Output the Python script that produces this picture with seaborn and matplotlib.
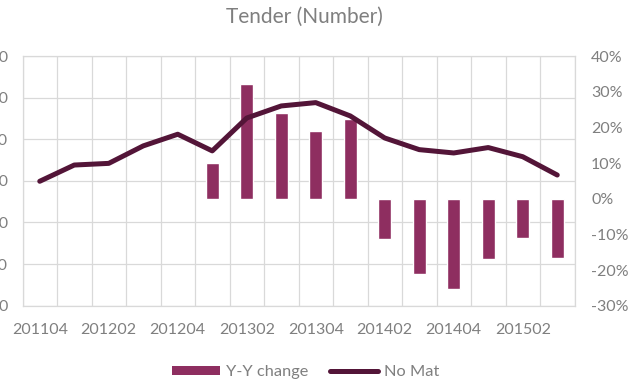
import numpy as np
import pandas as pd
import matplotlib
matplotlib.use("Agg")
import matplotlib.pyplot as plt
from matplotlib.patches import Patch
from matplotlib.lines import Line2D
from matplotlib.ticker import PercentFormatter, NullFormatter
import seaborn as sns

# Quarterly periods (YYYYQQ)
periods = ["201104", "201201", "201202", "201203", "201204", "201301", "201302", "201303",
           "201304", "201401", "201402", "201403", "201404", "201501", "201502", "201503"]
# Number of tenders (moving total)
no_mat = [299, 338, 342, 384, 412, 372, 451, 480, 488, 456, 403, 375, 367, 380, 358, 314]
# Year-on-year change (fraction)
yy_change = [np.nan, np.nan, np.nan, np.nan, np.nan, 0.100, 0.321, 0.240, 0.190, 0.224,
             -0.112, -0.210, -0.252, -0.168, -0.110, -0.166]
left_ticks = [0, 100, 200, 300, 400, 500, 600]
right_ticks = [-0.3, -0.2, -0.1, 0.0, 0.1, 0.2, 0.3, 0.4]
x_labels = ["201104", "201202", "201204", "201302", "201304", "201402", "201404", "201502"]

df = pd.DataFrame({"period": periods, "no_mat": no_mat, "yy": yy_change})

sns.set_theme(style="white")
plt.rcParams["font.family"] = ["Lato", "DejaVu Sans"]
plt.rcParams["axes.unicode_minus"] = False

BAR = "#8E2E60"
LINE = "#531538"
GRID = "#D9D9D9"
TXT = "#7F7F7F"
FS = 11.5

fig = plt.figure(figsize=(6.41, 3.82), dpi=100)
fig.patch.set_facecolor("white")
ax_grid = fig.add_axes([22.5 / 641, 76.3 / 382, 552 / 641, 249.7 / 382])
ax_bar = ax_grid.twinx()
ax_line = ax_grid.twinx()
ax_grid.set_zorder(0)
ax_bar.set_zorder(1)
ax_line.set_zorder(2)
for a in (ax_bar, ax_line):
    a.patch.set_visible(False)

# Bars: year-on-year change on the right-hand scale
sns.barplot(data=df.dropna(subset=["yy"]), x="period", y="yy", order=periods,
            color=BAR, saturation=1, width=0.39, ax=ax_bar, errorbar=None)

# Line: number of tenders on the left-hand scale
sns.lineplot(data=df, x="period", y="no_mat", sort=False, color=LINE, linewidth=3.6,
             ax=ax_line, solid_capstyle="round", solid_joinstyle="round")

n = len(periods)
for a in (ax_grid, ax_bar, ax_line):
    a.set_xlim(-0.5, n - 0.5)
    a.set_xlabel("")
    a.set_ylabel("")
    for s in a.spines.values():
        s.set_visible(False)

# Left scale and gridlines
ax_grid.set_ylim(left_ticks[0], left_ticks[-1])
ax_line.set_ylim(left_ticks[0], left_ticks[-1])
ax_grid.set_yticks(left_ticks)
ax_grid.tick_params(axis="y", length=0, pad=10.5, labelsize=FS, labelcolor=TXT)
ax_grid.set_xticks(np.arange(-0.5, n, 1.0))
ax_grid.xaxis.set_major_formatter(NullFormatter())
ax_grid.set_xticks(np.arange(0, n, 2), labels=x_labels, minor=True)
ax_grid.tick_params(axis="x", which="major", length=0)
ax_grid.tick_params(axis="x", which="minor", length=0, pad=12.5, labelsize=FS, labelcolor=TXT)
ax_grid.grid(True, which="major", color=GRID, linewidth=0.9)
ax_grid.grid(False, which="minor")
for s in ax_grid.spines.values():
    s.set_visible(True)
    s.set_color(GRID)
    s.set_linewidth(0.9)

# Right percentage scale
ax_bar.set_ylim(right_ticks[0], right_ticks[-1])
ax_bar.set_yticks(right_ticks)
ax_bar.yaxis.set_major_formatter(PercentFormatter(1.0, decimals=0))
ax_bar.tick_params(axis="y", length=0, pad=12, labelsize=FS, labelcolor=TXT)
ax_bar.grid(False)

ax_line.set_yticks([])
ax_line.grid(False)
ax_line.xaxis.set_visible(False)
ax_bar.xaxis.set_visible(False)

fig.text(304 / 641, 1 - 17 / 382, "Tender (Number)", ha="center", va="center",
         fontsize=15, color=TXT)

handles = [Patch(facecolor=BAR, edgecolor="none"),
           Line2D([0], [0], color=LINE, linewidth=3.6, solid_capstyle="round")]
fig.legend(handles, ["Y-Y change", "No Mat"], loc="center",
           bbox_to_anchor=(306 / 641, 1 - 372 / 382), ncol=2, frameon=False,
           fontsize=11.8, labelcolor=TXT, handlelength=2.9, handleheight=0.5,
           handletextpad=0.4, columnspacing=1.3)

fig.savefig("out.png", dpi=100, facecolor="white")
